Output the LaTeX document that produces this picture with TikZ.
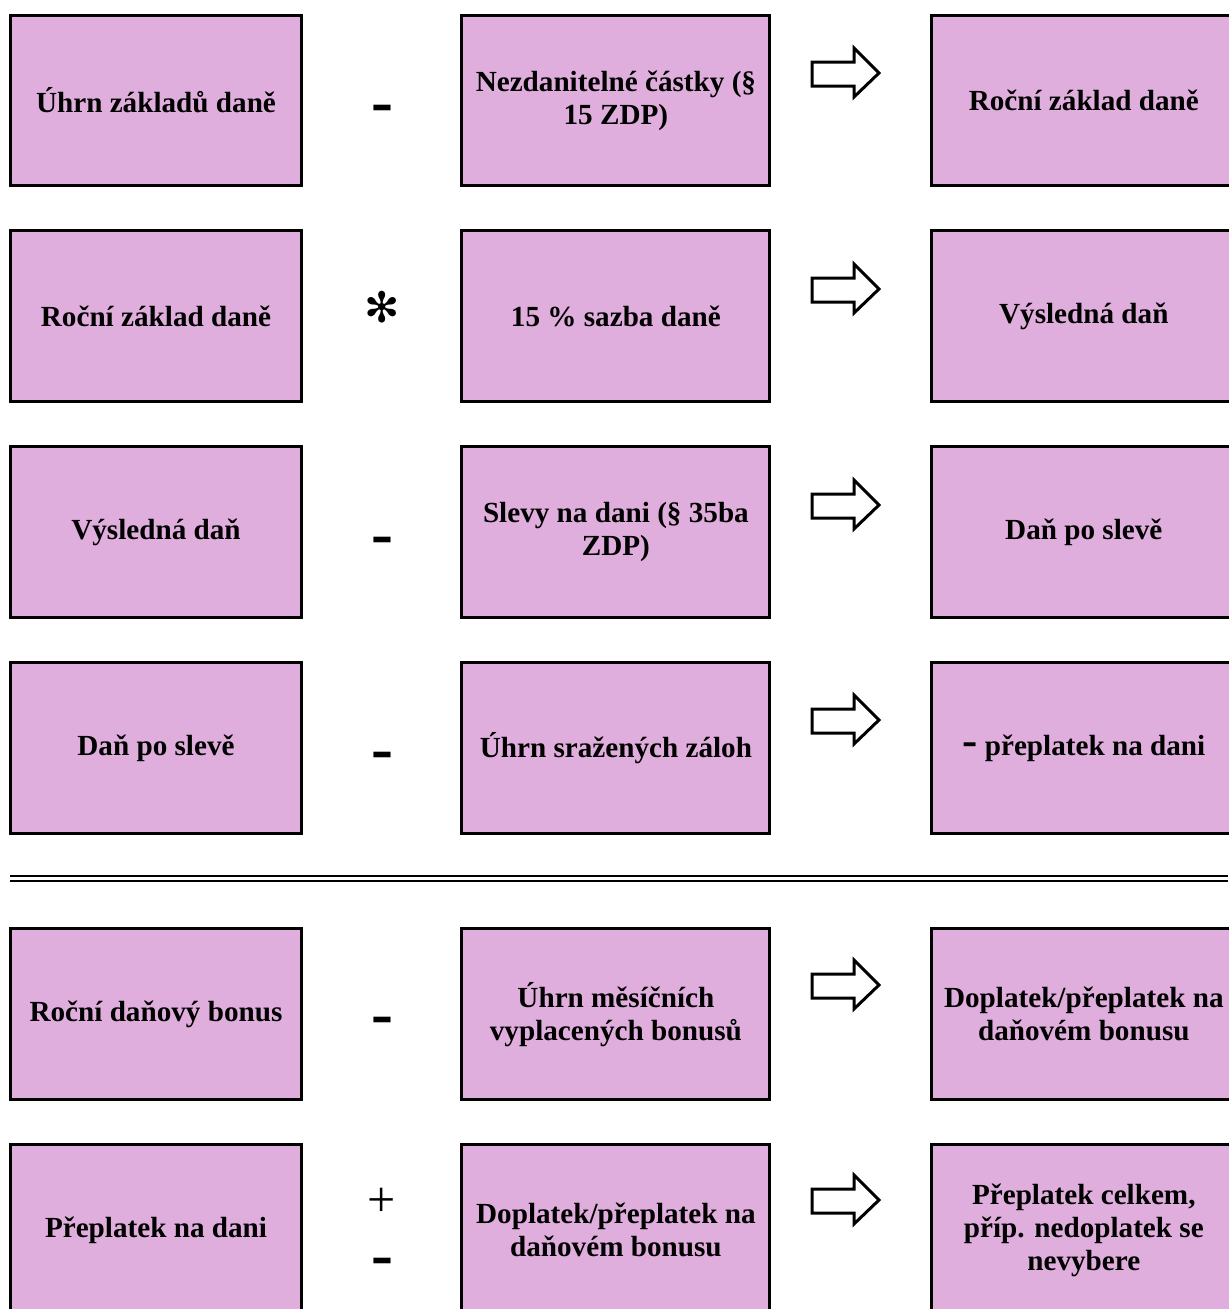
\documentclass[tikz,border=0pt]{standalone}
\usepackage{fontspec}
\setmainfont{Liberation Serif}
\newfontfamily\symfont{DejaVu Sans}
\usetikzlibrary{positioning}
\definecolor{boxpink}{RGB}{223,174,220}
\tikzset{%
    box/.style = {draw=black, line width=0.06cm, fill=boxpink, rectangle,
        minimum height=3.42cm, align=center, inner sep=0pt,
        font=\bfseries\fontsize{16.6}{18.8}\selectfont},
    lbox/.style = {box, minimum width=5.84cm},
    mbox/.style = {box, minimum width=6.16cm},
    rbox/.style = {box, minimum width=6.08cm},
    op/.style = {anchor=base, inner sep=0pt,
        font=\bfseries\fontsize{37.5}{37.5}\selectfont},
    starop/.style = {inner sep=0pt, font=\symfont\fontsize{24}{24}\selectfont},
    plusop/.style = {anchor=base, inner sep=0pt,
        font=\fontsize{28.5}{28.5}\selectfont},
    blockarrow/.pic = {\draw[line width=0.06cm, fill=white, line join=miter]
        (-33,-11) -- (9,-11) -- (9,-25) -- (34,0) -- (9,24) -- (9,13) -- (-33,13) -- cycle;}
}
\begin{document}
\begin{tikzpicture}[x=0.02cm, y=-0.02cm]
    \useasboundingbox (0,0) rectangle (1228,1309);
    % rows of boxes
    \node [lbox] (L1) at (156,100.5) {Úhrn základů daně};
    \node [mbox, right=3.14cm of L1] (M1) {Nezdanitelné částky (§\\15 ZDP)};
    \node [rbox, right=3.18cm of M1] (R1) {Roční základ daně};
    \node [lbox, below=0.84cm of L1] (L2) {Roční základ daně};
    \node [mbox, right=3.14cm of L2] (M2) {15 \% sazba daně};
    \node [rbox, right=3.18cm of M2] (R2) {Výsledná daň};
    \node [lbox, below=0.84cm of L2] (L3) {Výsledná daň};
    \node [mbox, right=3.14cm of L3] (M3) {Slevy na dani (§ 35ba\\ZDP)};
    \node [rbox, right=3.18cm of M3] (R3) {Daň po slevě};
    \node [lbox, below=0.84cm of L3] (L4) {Daň po slevě};
    \node [mbox, right=3.14cm of L4] (M4) {Úhrn sražených záloh};
    \node [rbox, right=3.18cm of M4] (R4) {{\fontsize{26}{26}\selectfont -} přeplatek na dani};
    \node [lbox, below=1.84cm of L4] (L5) {Roční daňový bonus};
    \node [mbox, right=3.14cm of L5] (M5) {Úhrn měsíčních\\vyplacených bonusů};
    \node [rbox, right=3.18cm of M5] (R5) {Doplatek/přeplatek na\\daňovém bonusu};
    \node [lbox, below=0.84cm of L5] (L6) {Přeplatek na dani};
    \node [mbox, right=3.14cm of L6] (M6) {Doplatek/přeplatek na\\daňovém bonusu};
    \node [rbox, right=3.18cm of M6] (R6) {Přeplatek celkem,\\příp. nedoplatek se\\nevybere};
    % operators
    \node [op] (op1) at (382,123) {-};
    \node [starop] (op2) at (382,307.5) {✻};
    \node [op] (op3) at (382,555) {-};
    \node [op] (op4) at (382,770) {-};
    \node [op] (op5) at (382,1035) {-};
    \node [plusop] (op6a) at (382,1216) {+};
    \node [op] (op6b) at (382,1276.5) {-};
    % result arrows
    \foreach \y in {73,289,505,720,985,1200}
        \pic at (845,\y) {blockarrow};
    % separator
    \coordinate (sepL) at (10,878.7);
    \coordinate (sepR) at (1228,878.7);
    \draw [double, line width=0.04cm, double distance=0.05cm] (sepL) -- (sepR);
\end{tikzpicture}
\end{document}
